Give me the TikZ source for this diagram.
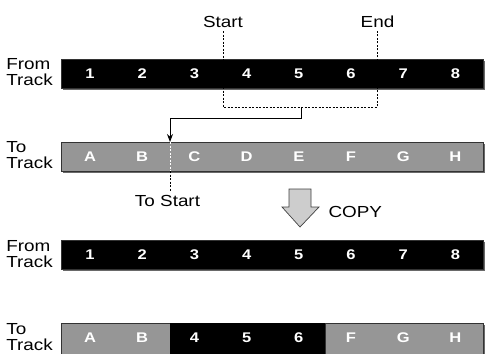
\documentclass[tikz,border=0pt]{standalone}
\usepackage{fontspec}
\setmainfont{Liberation Sans}[FakeStretch=1.18]
\usetikzlibrary{arrows.meta,positioning}
\definecolor{trackgray}{RGB}{150,150,150}
\definecolor{shadowgray}{RGB}{105,105,105}
\definecolor{copygray}{RGB}{205,205,205}

\begin{document}
\begin{tikzpicture}[x=1pt,y=-1pt,
  tracklbl/.style={font=\fontsize{16}{15.5}\selectfont, align=left, anchor=east, inner sep=0pt},
  celltxt/.style={font=\fontsize{14}{14}\selectfont\bfseries, text=white},
  toplbl/.style={font=\fontsize{16}{16}\selectfont},
  selline/.style={dash pattern=on 2pt off 1.5pt, line width=1pt}]
\useasboundingbox (0,0) rectangle (486,353);
% track bars
\foreach \y/\col in {59/black, 142/trackgray, 240/black}{
  \fill[shadowgray] (63,\y+2) rectangle (485,\y+31);
  \fill[\col, draw=black!80, line width=0.8pt] (61,\y) rectangle (483,\y+29);
}
\fill[shadowgray] (63,325) rectangle (485,356);
\fill[trackgray, draw=black!80, line width=0.8pt] (61,323) rectangle (170,355);
\fill[black] (170,323) rectangle (325,355);
\fill[trackgray, draw=black!80, line width=0.8pt] (325,323) rectangle (483,355);
% track names
\node[tracklbl] (fromA) at (53,72) {From\\Track};
\node[tracklbl] (toA) at (53,155) {To\\Track};
\node[tracklbl] (fromB) at (53,254) {From\\Track};
\node[tracklbl] (toB) at (53,337) {To\\Track};
% cell labels
\foreach \l [count=\i] in {1,...,8}
  \node[celltxt] (a\i) at ({90+52.2*(\i-1)},73.5) {\l};
\foreach \l [count=\i] in {A,B,C,D,E,F,G,H}
  \node[celltxt] (b\i) at ({90+52.2*(\i-1)},156.5) {\l};
\foreach \l [count=\i] in {1,...,8}
  \node[celltxt] (c\i) at ({90+52.2*(\i-1)},254.5) {\l};
\foreach \l [count=\i] in {A,B,4,5,6,F,G,H}
  \node[celltxt] (d\i) at ({90+52.2*(\i-1)},338) {\l};
% selection
\node[toplbl] (start) at (223,22) {Start};
\node[toplbl] (end) at (377.5,22) {End};
\coordinate (selL) at (223,107);
\coordinate (selR) at (377.5,107);
\coordinate (selmid) at (301,107);
\draw[selline] (start.south) -- (selL) -- (selR) -- (end.south);
\coordinate (tostart) at (170,142);
\coordinate (tostartB) at (170,171);
\draw[-{Stealth[length=8pt,width=6pt]}, line width=0.9pt] (selmid) -- ++(0,11) -| (tostart);
\draw[selline, white] (tostart) -- (tostartB);
\node[toplbl] (tostartlbl) at (167.5,201) {To Start};
\draw[selline] (tostartB) -- (tostartlbl.north -| tostartB);
% copy arrow
\draw[fill=copygray, draw=black!75, line width=0.7pt] (289,189) -- (311,189) -- (311,207)
  -- (319,207) -- (300,227) -- (282,207) -- (289,207) -- cycle;
\node[toplbl, anchor=west] (copy) at (325,212) {COPY};
\end{tikzpicture}
\end{document}
